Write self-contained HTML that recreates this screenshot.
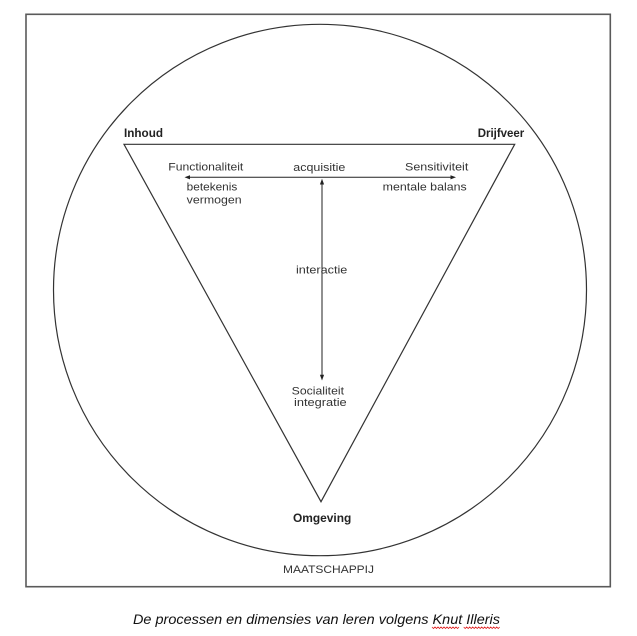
<!DOCTYPE html>
<html>
<head>
<meta charset="utf-8">
<style>
  html, body { margin: 0; padding: 0; background: #fff; }
  svg { display: block; }
  text { font-family: "Liberation Sans", "DejaVu Sans", sans-serif; fill: #333; }
  .b { font-weight: bold; fill: #222; }
</style>
</head>
<body>
<svg width="637" height="636" viewBox="0 0 637 636" xmlns="http://www.w3.org/2000/svg">
  <rect x="0" y="0" width="637" height="636" fill="#fff"/>
  <!-- outer box -->
  <rect x="26" y="14.3" width="584.3" height="572.4" fill="none" stroke="#5a5a5a" stroke-width="1.6"/>
  <!-- circle -->
  <ellipse cx="320" cy="290" rx="266.5" ry="265.7" fill="none" stroke="#333" stroke-width="1.2"/>
  <!-- triangle -->
  <polygon points="124,144.3 514.7,144.3 321,501.7" fill="none" stroke="#333" stroke-width="1.2" stroke-linejoin="miter"/>

  <!-- horizontal arrow -->
  <line x1="188" y1="177.3" x2="452" y2="177.3" stroke="#222" stroke-width="1"/>
  <polygon points="184.5,177.3 190,175.2 190,179.4" fill="#222"/>
  <polygon points="456,177.3 450.5,175.2 450.5,179.4" fill="#222"/>
  <!-- vertical arrow -->
  <line x1="322" y1="183" x2="322" y2="376" stroke="#222" stroke-width="1"/>
  <polygon points="322,178.8 319.9,184.5 324.1,184.5" fill="#222"/>
  <polygon points="322,380.5 319.9,374.8 324.1,374.8" fill="#222"/>

  <!-- labels -->
  <text class="b" x="124" y="137" font-size="11.5" textLength="39" lengthAdjust="spacingAndGlyphs">Inhoud</text>
  <text class="b" x="477.7" y="137" font-size="11.5" textLength="46.6" lengthAdjust="spacingAndGlyphs">Drijfveer</text>

  <text x="168.3" y="170.7" font-size="11" textLength="75" lengthAdjust="spacingAndGlyphs">Functionaliteit</text>
  <text x="293.3" y="171" font-size="11" textLength="52" lengthAdjust="spacingAndGlyphs">acquisitie</text>
  <text x="405" y="170.5" font-size="11" textLength="63.3" lengthAdjust="spacingAndGlyphs">Sensitiviteit</text>

  <text x="186.7" y="190.7" font-size="11" textLength="50.6" lengthAdjust="spacingAndGlyphs">betekenis</text>
  <text x="186.7" y="203.5" font-size="11" textLength="55" lengthAdjust="spacingAndGlyphs">vermogen</text>
  <text x="382.7" y="190.7" font-size="11" textLength="84" lengthAdjust="spacingAndGlyphs">mentale balans</text>

  <text x="296" y="273.3" font-size="11" textLength="51.3" lengthAdjust="spacingAndGlyphs">interactie</text>

  <text x="291.7" y="394.3" font-size="11" textLength="52.3" lengthAdjust="spacingAndGlyphs">Socialiteit</text>
  <text x="294" y="406" font-size="11" textLength="52.7" lengthAdjust="spacingAndGlyphs">integratie</text>

  <text class="b" x="293" y="522" font-size="11.5" textLength="58.3" lengthAdjust="spacingAndGlyphs">Omgeving</text>
  <text x="283" y="573" font-size="11" textLength="91" lengthAdjust="spacingAndGlyphs">MAATSCHAPPIJ</text>

  <!-- caption -->
  <text x="133" y="624" font-size="14" font-style="italic" fill="#111" style="fill:#111" textLength="367" lengthAdjust="spacingAndGlyphs">De processen en dimensies van leren volgens Knut Illeris</text>
  <!-- wavy spelling underlines -->
  <path d="M432,627 l1.5,1.5 l1.5,-1.5 l1.5,1.5 l1.5,-1.5 l1.5,1.5 l1.5,-1.5 l1.5,1.5 l1.5,-1.5 l1.5,1.5 l1.5,-1.5 l1.5,1.5 l1.5,-1.5 l1.5,1.5 l1.5,-1.5 l1.5,1.5 l1.5,-1.5 l1.5,1.5 l1.5,-1.5" fill="none" stroke="#e02020" stroke-width="0.8"/>
  <path d="M463.7,627 l1.5,1.5 l1.5,-1.5 l1.5,1.5 l1.5,-1.5 l1.5,1.5 l1.5,-1.5 l1.5,1.5 l1.5,-1.5 l1.5,1.5 l1.5,-1.5 l1.5,1.5 l1.5,-1.5 l1.5,1.5 l1.5,-1.5 l1.5,1.5 l1.5,-1.5 l1.5,1.5 l1.5,-1.5 l1.5,1.5 l1.5,-1.5 l1.5,1.5 l1.5,-1.5 l1.5,1.5 l1.5,-1.5" fill="none" stroke="#e02020" stroke-width="0.8"/>
</svg>
</body>
</html>
